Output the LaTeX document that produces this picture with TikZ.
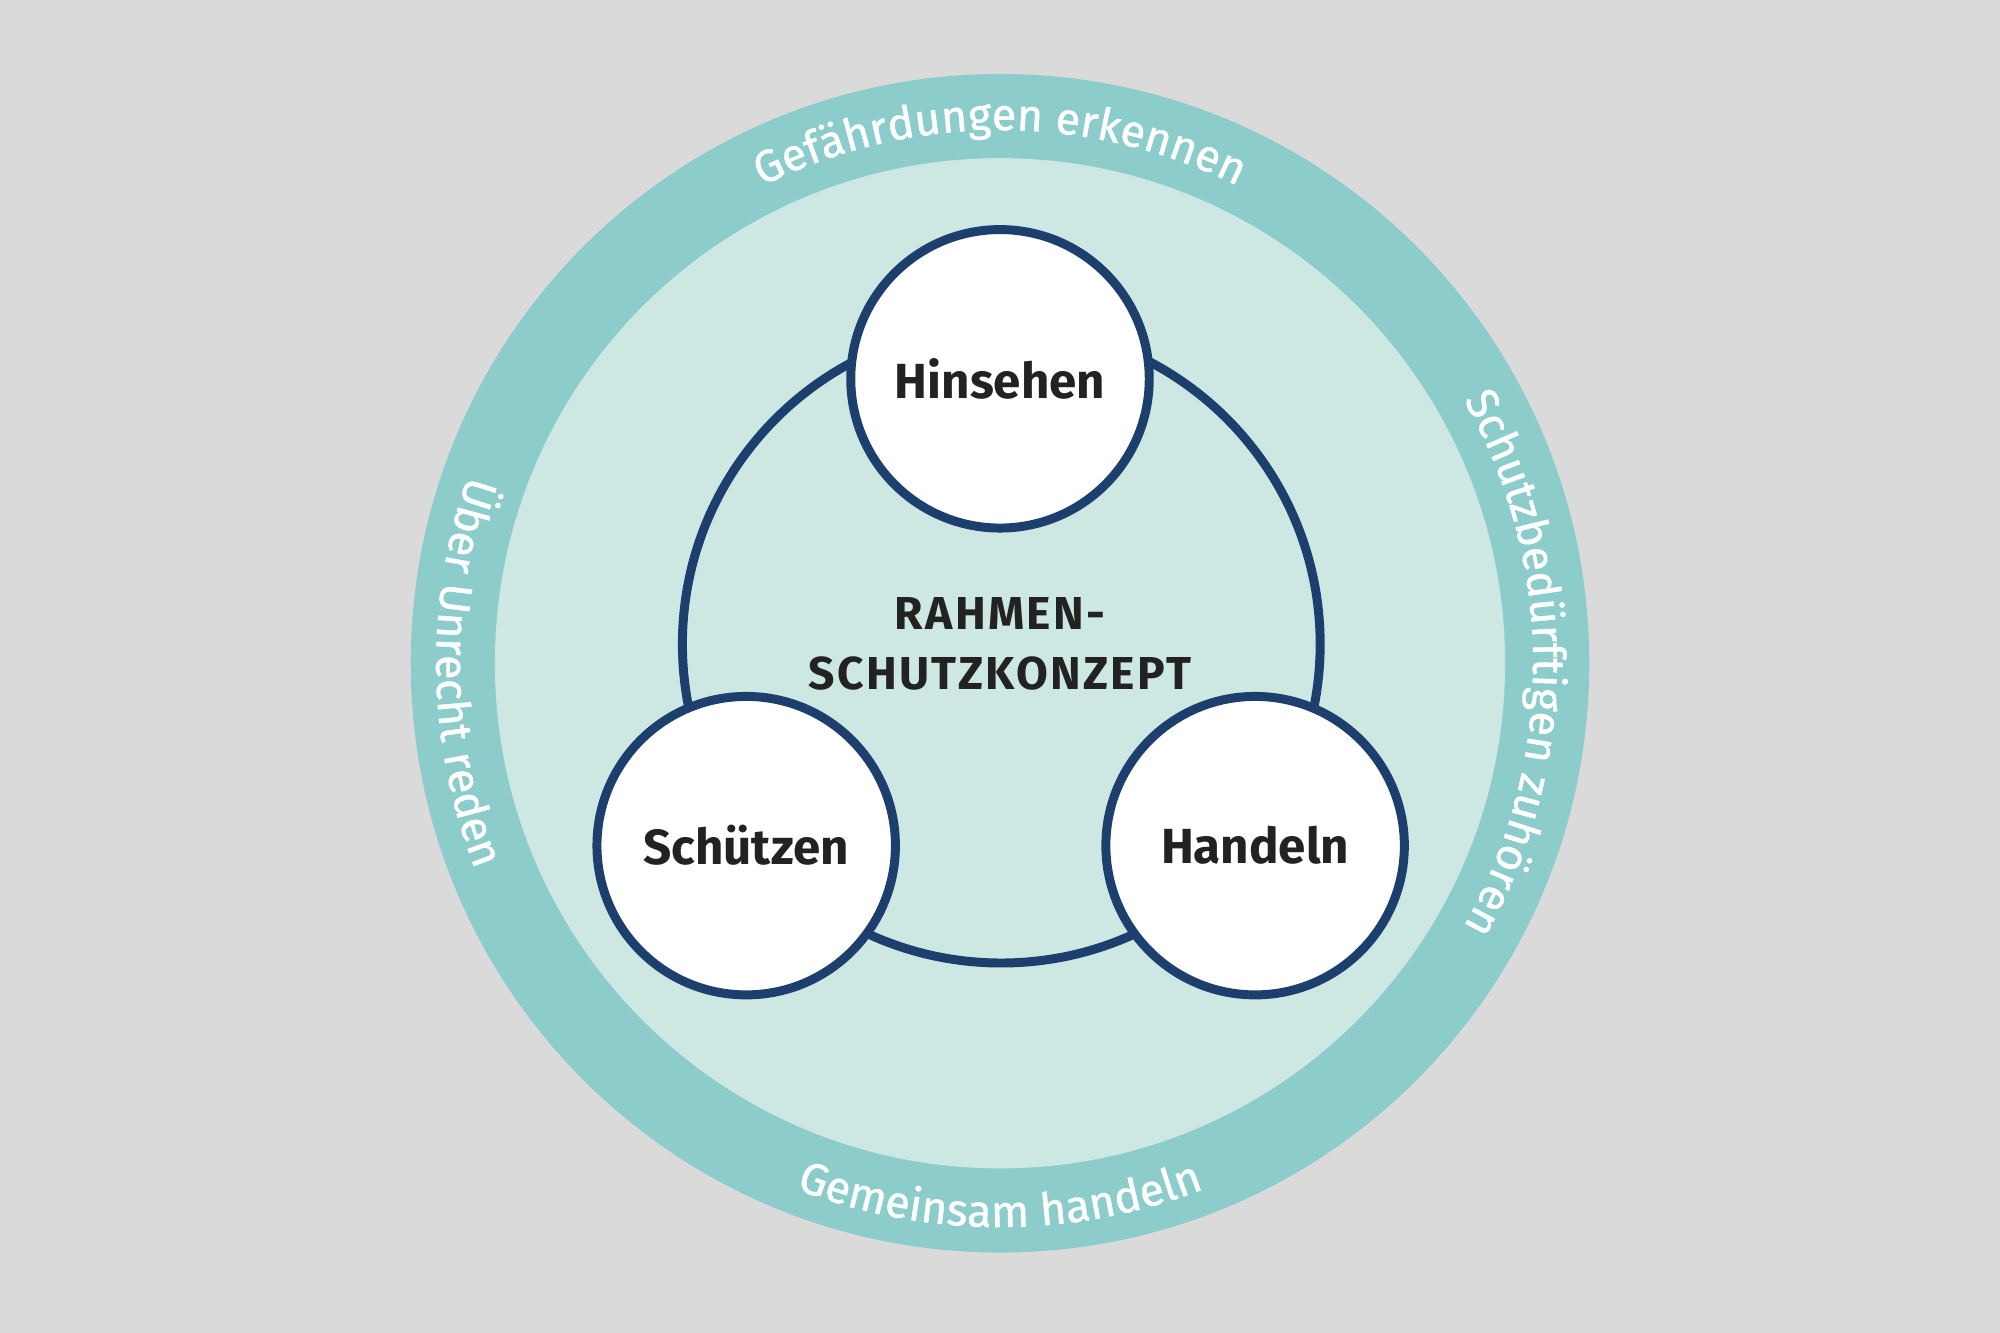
\documentclass[tikz,border=0pt]{standalone}
\usepackage{fontspec}
\setmainfont{Fira Sans}
\usetikzlibrary{positioning, decorations.text}
\definecolor{bggray}{HTML}{DADADA}
\definecolor{ringteal}{HTML}{8CCDCB}
\definecolor{innerteal}{HTML}{CDE7E3}
\definecolor{navy}{HTML}{1D3F6E}
\definecolor{ink}{HTML}{222222}

\begin{document}
\begin{tikzpicture}[thick]
      \tikzstyle{phase}=[circle, draw=navy, line width=2pt, fill=white, minimum size=2.34cm, inner sep=0pt, font=\fontsize{11}{13}\selectfont\bfseries, text=ink]
      \tikzstyle{ringtext}=[decorate, decoration={text along path, text align=center, text color=white}]

      % Background
      \fill[bggray] (0,0) rectangle (15.68,10.45);
      \useasboundingbox (0,0) rectangle (15.68,10.45);
      \coordinate (o) at (7.84,5.25);
      \fill[ringteal] (o) circle (4.62);
      \fill[innerteal] (o) circle (3.96);

      % Ring labels
      \path[ringtext, decoration={text={|\fontsize{10}{12}\selectfont\addfontfeature{FakeBold=1}|Gefährdungen erkennen}}]
        ([shift={(140:4.18)}]o) arc[start angle=140, end angle=40, radius=4.18];
      \path[ringtext, decoration={text={|\fontsize{10}{12}\selectfont\addfontfeature{FakeBold=1}|Schutzbedürftigen zuhören}}]
        ([shift={(40:4.18)}]o) arc[start angle=40, end angle=-40, radius=4.18];
      \path[ringtext, decoration={text={|\fontsize{10}{12}\selectfont\addfontfeature{FakeBold=1}|Über Unrecht reden}}]
        ([shift={(140:4.42)}]o) arc[start angle=140, end angle=222, radius=4.42];
      \path[ringtext, decoration={text={|\fontsize{10}{12}\selectfont\addfontfeature{FakeBold=1}|Gemeinsam handeln}}]
        ([shift={(230:4.42)}]o) arc[start angle=230, end angle=310, radius=4.42];

      % Cycle
      \coordinate (c) at (7.85,5.40);
      \draw[navy, line width=2pt] (c) circle (2.50);

      % Nodes
      \node[phase] (hin) at (7.84,7.48) {Hinsehen};
      \node[phase] (sch) at (5.85,3.82) {Schützen};
      \node[phase] (han) at (9.84,3.82) {Handeln};
      \node[text=ink, font=\fontsize{10.3}{13.5}\selectfont\bfseries, align=center] (core) at (7.84,5.40)
        {\addfontfeature{LetterSpace=5}RAHMEN-\\\addfontfeature{LetterSpace=5}SCHUTZKONZEPT};
\end{tikzpicture}
\end{document}
